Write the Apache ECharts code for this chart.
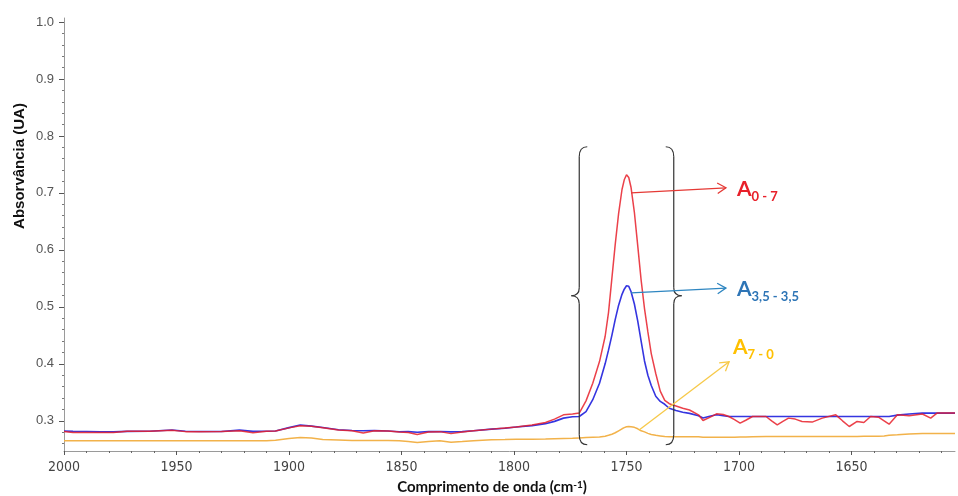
<!DOCTYPE html>
<html>
<head>
<meta charset="utf-8">
<script src="https://cdn.jsdelivr.net/npm/echarts@6/dist/echarts.min.js"></script>
<style>
  html, body { margin: 0; padding: 0; background: #fff; }
  #chart { width: 958px; height: 496px; }
</style>
</head>
<body>
<div id="chart"></div>
<script>
// número de onda (cm-1)
const wavenumber = [
  2000, 1996, 1990, 1984, 1978, 1972, 1962, 1952, 1946, 1940, 1930, 1922, 1916, 1910, 1906,
  1900, 1895, 1890, 1885, 1878, 1872, 1867, 1862, 1856, 1851, 1847, 1843, 1838, 1833, 1828,
  1823, 1818, 1810, 1804, 1799, 1792, 1786, 1782, 1778, 1774, 1771,
  1768, 1765, 1762, 1759.5, 1758, 1756.5, 1755, 1753.5, 1752, 1751, 1750, 1749, 1748, 1746.5,
  1745, 1743.5, 1742, 1740.5, 1739, 1737, 1735, 1733, 1731, 1728, 1725, 1722, 1718,
  1716, 1713, 1710, 1707, 1704.5, 1702, 1699.5, 1697, 1694, 1688, 1685.5, 1683, 1680.5, 1678,
  1675, 1672, 1667.5, 1663, 1657, 1654, 1651, 1647.5, 1644.5, 1641.5, 1638, 1635.5, 1633.3,
  1629.6, 1624.4, 1618.5, 1614.8, 1612, 1604
]
// A 0-7 (vermelho)
const absA07 = [
  0.2812, 0.2796, 0.2795, 0.2796, 0.2795, 0.2815, 0.2816, 0.2836, 0.2810, 0.2810, 0.2812, 0.2826, 0.2790, 0.2815, 0.2822,
  0.2876, 0.2915, 0.2905, 0.2880, 0.2840, 0.2826, 0.2785, 0.2825, 0.2820, 0.2805, 0.2795, 0.2760, 0.2805, 0.2810, 0.2775,
  0.2805, 0.2826, 0.2854, 0.2875, 0.2890, 0.2925, 0.2970, 0.3030, 0.3105, 0.3120, 0.3135,
  0.335, 0.366, 0.404, 0.448, 0.490, 0.550, 0.610, 0.664, 0.706, 0.723, 0.732, 0.727, 0.710, 0.666,
  0.607, 0.547, 0.497, 0.456, 0.418, 0.383, 0.352, 0.336, 0.330, 0.326, 0.322, 0.319, 0.3105,
  0.3005, 0.3060, 0.3123, 0.3110, 0.3076, 0.3020, 0.2960, 0.3010, 0.3076, 0.3076, 0.3000, 0.2930, 0.2990, 0.3047,
  0.3030, 0.2988, 0.2977, 0.3047, 0.3105, 0.3000, 0.2900, 0.2988, 0.2970, 0.3076, 0.3064, 0.3000, 0.2940,
  0.3105, 0.3088, 0.3120, 0.3047, 0.3135, 0.3135
]
// A 3,5-3,5 (azul)
const absA3535 = [
  0.2818, 0.2814, 0.2812, 0.2806, 0.2806, 0.2815, 0.2816, 0.2838, 0.2816, 0.2812, 0.2813, 0.2836, 0.2815, 0.2816, 0.2822,
  0.2880, 0.2925, 0.2906, 0.2882, 0.2842, 0.2830, 0.2826, 0.2828, 0.2822, 0.2808, 0.2810, 0.2800, 0.2810, 0.2811, 0.2805,
  0.2810, 0.2826, 0.2854, 0.2870, 0.2890, 0.2915, 0.2950, 0.2990, 0.3047, 0.3070, 0.3076,
  0.316, 0.337, 0.366, 0.400, 0.424, 0.450, 0.478, 0.503, 0.522, 0.531, 0.537, 0.536, 0.527, 0.505,
  0.475, 0.440, 0.405, 0.380, 0.362, 0.343, 0.334, 0.329, 0.322, 0.318, 0.315, 0.313, 0.309,
  0.3050, 0.3080, 0.3105, 0.3090, 0.3076, 0.3076, 0.3076, 0.3076, 0.3076, 0.3076, 0.3076, 0.3076, 0.3076, 0.3076,
  0.3076, 0.3076, 0.3076, 0.3076, 0.3076, 0.3076, 0.3076, 0.3076, 0.3076, 0.3076, 0.3076, 0.3076, 0.3076,
  0.3100, 0.3120, 0.3135, 0.3135, 0.3135, 0.3135
]
// A 7-0 (laranja)
const absA70 = [
  0.2650, 0.2650, 0.2650, 0.2650, 0.2650, 0.2650, 0.2650, 0.2650, 0.2650, 0.2650, 0.2650, 0.2650, 0.2650, 0.2652, 0.2658,
  0.2690, 0.2705, 0.2700, 0.2672, 0.2665, 0.2656, 0.2655, 0.2655, 0.2655, 0.2650, 0.2636, 0.2620, 0.2636, 0.2650, 0.2622,
  0.2635, 0.2650, 0.2667, 0.2670, 0.2675, 0.2678, 0.2680, 0.2685, 0.2690, 0.2695, 0.2700,
  0.2705, 0.2710, 0.2715, 0.2730, 0.2745, 0.2765, 0.2790, 0.2825, 0.2860, 0.2880, 0.2895, 0.2900, 0.2895, 0.2885,
  0.2860, 0.2825, 0.2805, 0.2780, 0.2760, 0.2745, 0.2735, 0.2725, 0.2720, 0.2720, 0.2720, 0.2720, 0.2720,
  0.2710, 0.2710, 0.2710, 0.2710, 0.2710, 0.2710, 0.2715, 0.2715, 0.2720, 0.2725, 0.2725, 0.2725, 0.2725, 0.2725,
  0.2725, 0.2725, 0.2725, 0.2725, 0.2725, 0.2725, 0.2725, 0.2725, 0.2730, 0.2730, 0.2730, 0.2735, 0.2745,
  0.2755, 0.2770, 0.2777, 0.2777, 0.2777, 0.2777
]
const xMajorTicks = [2000, 1950, 1900, 1850, 1800, 1750, 1700, 1650]
const xMinorTicks = [1990, 1980, 1970, 1960, 1940, 1930, 1920, 1910, 1890, 1880, 1870, 1860,
  1840, 1830, 1820, 1810, 1790, 1780, 1770, 1760, 1740, 1730, 1720, 1710, 1690, 1680, 1670, 1660,
  1640, 1630, 1620, 1610]
const yMajorTicks = [0.3, 0.4, 0.5, 0.6, 0.7, 0.8, 0.9, 1.0]
const yMinorTicks = [0.26, 0.28, 0.32, 0.34, 0.36, 0.38, 0.42, 0.44, 0.46, 0.48, 0.52, 0.54, 0.56, 0.58,
  0.62, 0.64, 0.66, 0.68, 0.72, 0.74, 0.76, 0.78, 0.82, 0.84, 0.86, 0.88, 0.92, 0.94, 0.96, 0.98]

// anotações (coordenadas em dados)
const arrowNotes = [
  { from: [1748.0, 0.700], to: [1705.8, 0.709], at: [1700.9, 0.7035], color: '#e53935', textColor: '#e8202a', sub: '0 - 7' },
  { from: [1748.0, 0.5245], to: [1705.8, 0.533], at: [1700.9, 0.528], color: '#2e86c1', textColor: '#2e75b6', sub: '3,5 - 3,5' },
  { from: [1744.4, 0.284], to: [1704.4, 0.4035], at: [1702.7, 0.4263], color: '#f7c948', textColor: '#ffc000', sub: '7 - 0' }
]
const braceSpan = { left: 1771, right: 1729, top: 0.781, bottom: 0.258 }

const xMin = 1604
const xMax = 2000
const yMin = 0.247
const yMax = 1.007

function pairs (ys) {
  return wavenumber.map((w, i) => [w, ys[i]])
}

let chart = echarts.init(document.getElementById('chart'))
chart.setOption({
  animation: false,
  backgroundColor: '#fff',
  grid: { left: 64, right: 3, top: 18, bottom: 45 },
  xAxis: [{
    type: 'value',
    min: xMin,
    max: xMax,
    inverse: true,
    axisLine: { show: true, lineStyle: { color: '#9a9a9a', width: 1 } },
    axisTick: { show: true, customValues: xMajorTicks, length: 4, lineStyle: { color: '#555' } },
    axisLabel: {
      customValues: xMajorTicks,
      formatter: v => String(v),
      color: '#444',
      fontSize: 14,
      fontFamily: '"Liberation Sans Narrow", "DejaVu Sans Condensed", sans-serif',
      margin: 9
    },
    splitLine: { show: false }
  }, {
    type: 'value',
    min: xMin,
    max: xMax,
    inverse: true,
    position: 'bottom',
    axisLine: { show: false },
    axisTick: { show: true, customValues: xMinorTicks, length: 2, lineStyle: { color: '#666' } },
    axisLabel: { show: false },
    splitLine: { show: false }
  }],
  yAxis: [{
    type: 'value',
    min: yMin,
    max: yMax,
    axisLine: { show: true, lineStyle: { color: '#9a9a9a', width: 1 } },
    axisTick: { show: true, customValues: yMajorTicks, length: 5, lineStyle: { color: '#555' } },
    axisLabel: {
      customValues: yMajorTicks,
      formatter: v => v.toFixed(1),
      color: '#555',
      fontSize: 13,
      fontFamily: '"Liberation Sans", Arial, sans-serif',
      margin: 10
    },
    splitLine: { show: false }
  }, {
    type: 'value',
    min: yMin,
    max: yMax,
    position: 'left',
    axisLine: { show: false },
    axisTick: { show: true, customValues: yMinorTicks, length: 2, lineStyle: { color: '#777' } },
    axisLabel: { show: false },
    splitLine: { show: false }
  }],
  series: [{
    name: 'A 7-0',
    type: 'line',
    showSymbol: false,
    data: pairs(absA70),
    lineStyle: { color: '#f2b24a', width: 1.5 },
    itemStyle: { color: '#f2b24a' }
  }, {
    name: 'A 3,5-3,5',
    type: 'line',
    showSymbol: false,
    data: pairs(absA3535),
    lineStyle: { color: '#3535e0', width: 1.6 },
    itemStyle: { color: '#3535e0' }
  }, {
    name: 'A 0-7',
    type: 'line',
    showSymbol: false,
    data: pairs(absA07),
    lineStyle: { color: '#e8202a', width: 1.5, opacity: 0.85 },
    itemStyle: { color: '#e8202a' }
  }]
})

// elementos gráficos posicionados pela escala dos eixos
const toPx = p => chart.convertToPixel({ seriesIndex: 0 }, p)
let elements = []

// chaves
let braceTop = toPx([braceSpan.left, braceSpan.top])[1]
let braceBottom = toPx([braceSpan.left, braceSpan.bottom])[1]
let braceMid = (braceTop + braceBottom) / 2
let xl = toPx([braceSpan.left, braceSpan.top])[0]
let xr = toPx([braceSpan.right, braceSpan.top])[0]
const braceStyle = { fill: 'none', stroke: '#333', lineWidth: 1.2 }
function addBrace (x, d) {
  const curve = (x1, y1, cx, cy, x2, y2) => elements.push({
    type: 'bezierCurve', z: 100, shape: { x1: x1, y1: y1, cpx1: cx, cpy1: cy, x2: x2, y2: y2 }, style: braceStyle
  })
  const line = (y1, y2) => elements.push({
    type: 'line', z: 100, shape: { x1: x, y1: y1, x2: x, y2: y2 }, style: braceStyle
  })
  curve(x + 8 * d, braceTop, x, braceTop, x, braceTop + 10)
  line(braceTop + 10, braceMid - 8)
  curve(x, braceMid - 8, x, braceMid, x - 8 * d, braceMid)
  curve(x - 8 * d, braceMid, x, braceMid, x, braceMid + 8)
  line(braceMid + 8, braceBottom - 10)
  curve(x, braceBottom - 10, x, braceBottom, x + 8 * d, braceBottom)
}
addBrace(xl, 1)
addBrace(xr, -1)

// setas e rótulos
arrowNotes.forEach(n => {
  let a = toPx(n.from)
  let b = toPx(n.to)
  let ang = Math.atan2(b[1] - a[1], b[0] - a[0])
  let len = 10
  let spread = 0.55
  let p1 = [b[0] - len * Math.cos(ang - spread), b[1] - len * Math.sin(ang - spread)]
  let p2 = [b[0] - len * Math.cos(ang + spread), b[1] - len * Math.sin(ang + spread)]
  elements.push({ type: 'line', z: 100, shape: { x1: a[0], y1: a[1], x2: b[0], y2: b[1] }, style: { stroke: n.color, lineWidth: 1.3 } })
  elements.push({ type: 'polyline', z: 100, shape: { points: [p1, b, p2] }, style: { fill: 'none', stroke: n.color, lineWidth: 1.3 } })
  let t = toPx(n.at)
  elements.push({
    type: 'text',
    z: 100,
    x: t[0],
    y: t[1],
    style: {
      text: '{a|A}{s|' + n.sub + '}',
      align: 'left',
      verticalAlign: 'middle',
      rich: {
        a: { fontSize: 21, fontWeight: 'bold', fontFamily: 'Lato, "Open Sans", sans-serif', fill: n.textColor, padding: [0, 0, 3, 0] },
        s: { fontSize: 13, fontWeight: 'bold', fontFamily: 'Lato, "Open Sans", sans-serif', fill: n.textColor, verticalAlign: 'bottom' }
      }
    }
  })
})

// títulos dos eixos
elements.push({
  type: 'text',
  x: 20,
  y: 166,
  rotation: Math.PI / 2,
  style: {
    text: 'Absorvância (UA)',
    align: 'center',
    verticalAlign: 'middle',
    fontSize: 15,
    fontWeight: 'bold',
    fontFamily: '"Liberation Sans", Arial, sans-serif',
    fill: '#111'
  }
})
elements.push({
  type: 'text',
  x: 492,
  y: 487,
  style: {
    text: '{t|Comprimento de onda (cm}{u|-1}{t|)}',
    align: 'center',
    verticalAlign: 'middle',
    rich: {
      t: { fontSize: 15, fontWeight: 'bold', fontFamily: 'Lato, sans-serif', fill: '#111' },
      u: { fontSize: 10, fontWeight: 'bold', fontFamily: 'Lato, sans-serif', fill: '#111', verticalAlign: 'top' }
    }
  }
})

chart.setOption({ graphic: { elements: elements } })
</script>
</body>
</html>
